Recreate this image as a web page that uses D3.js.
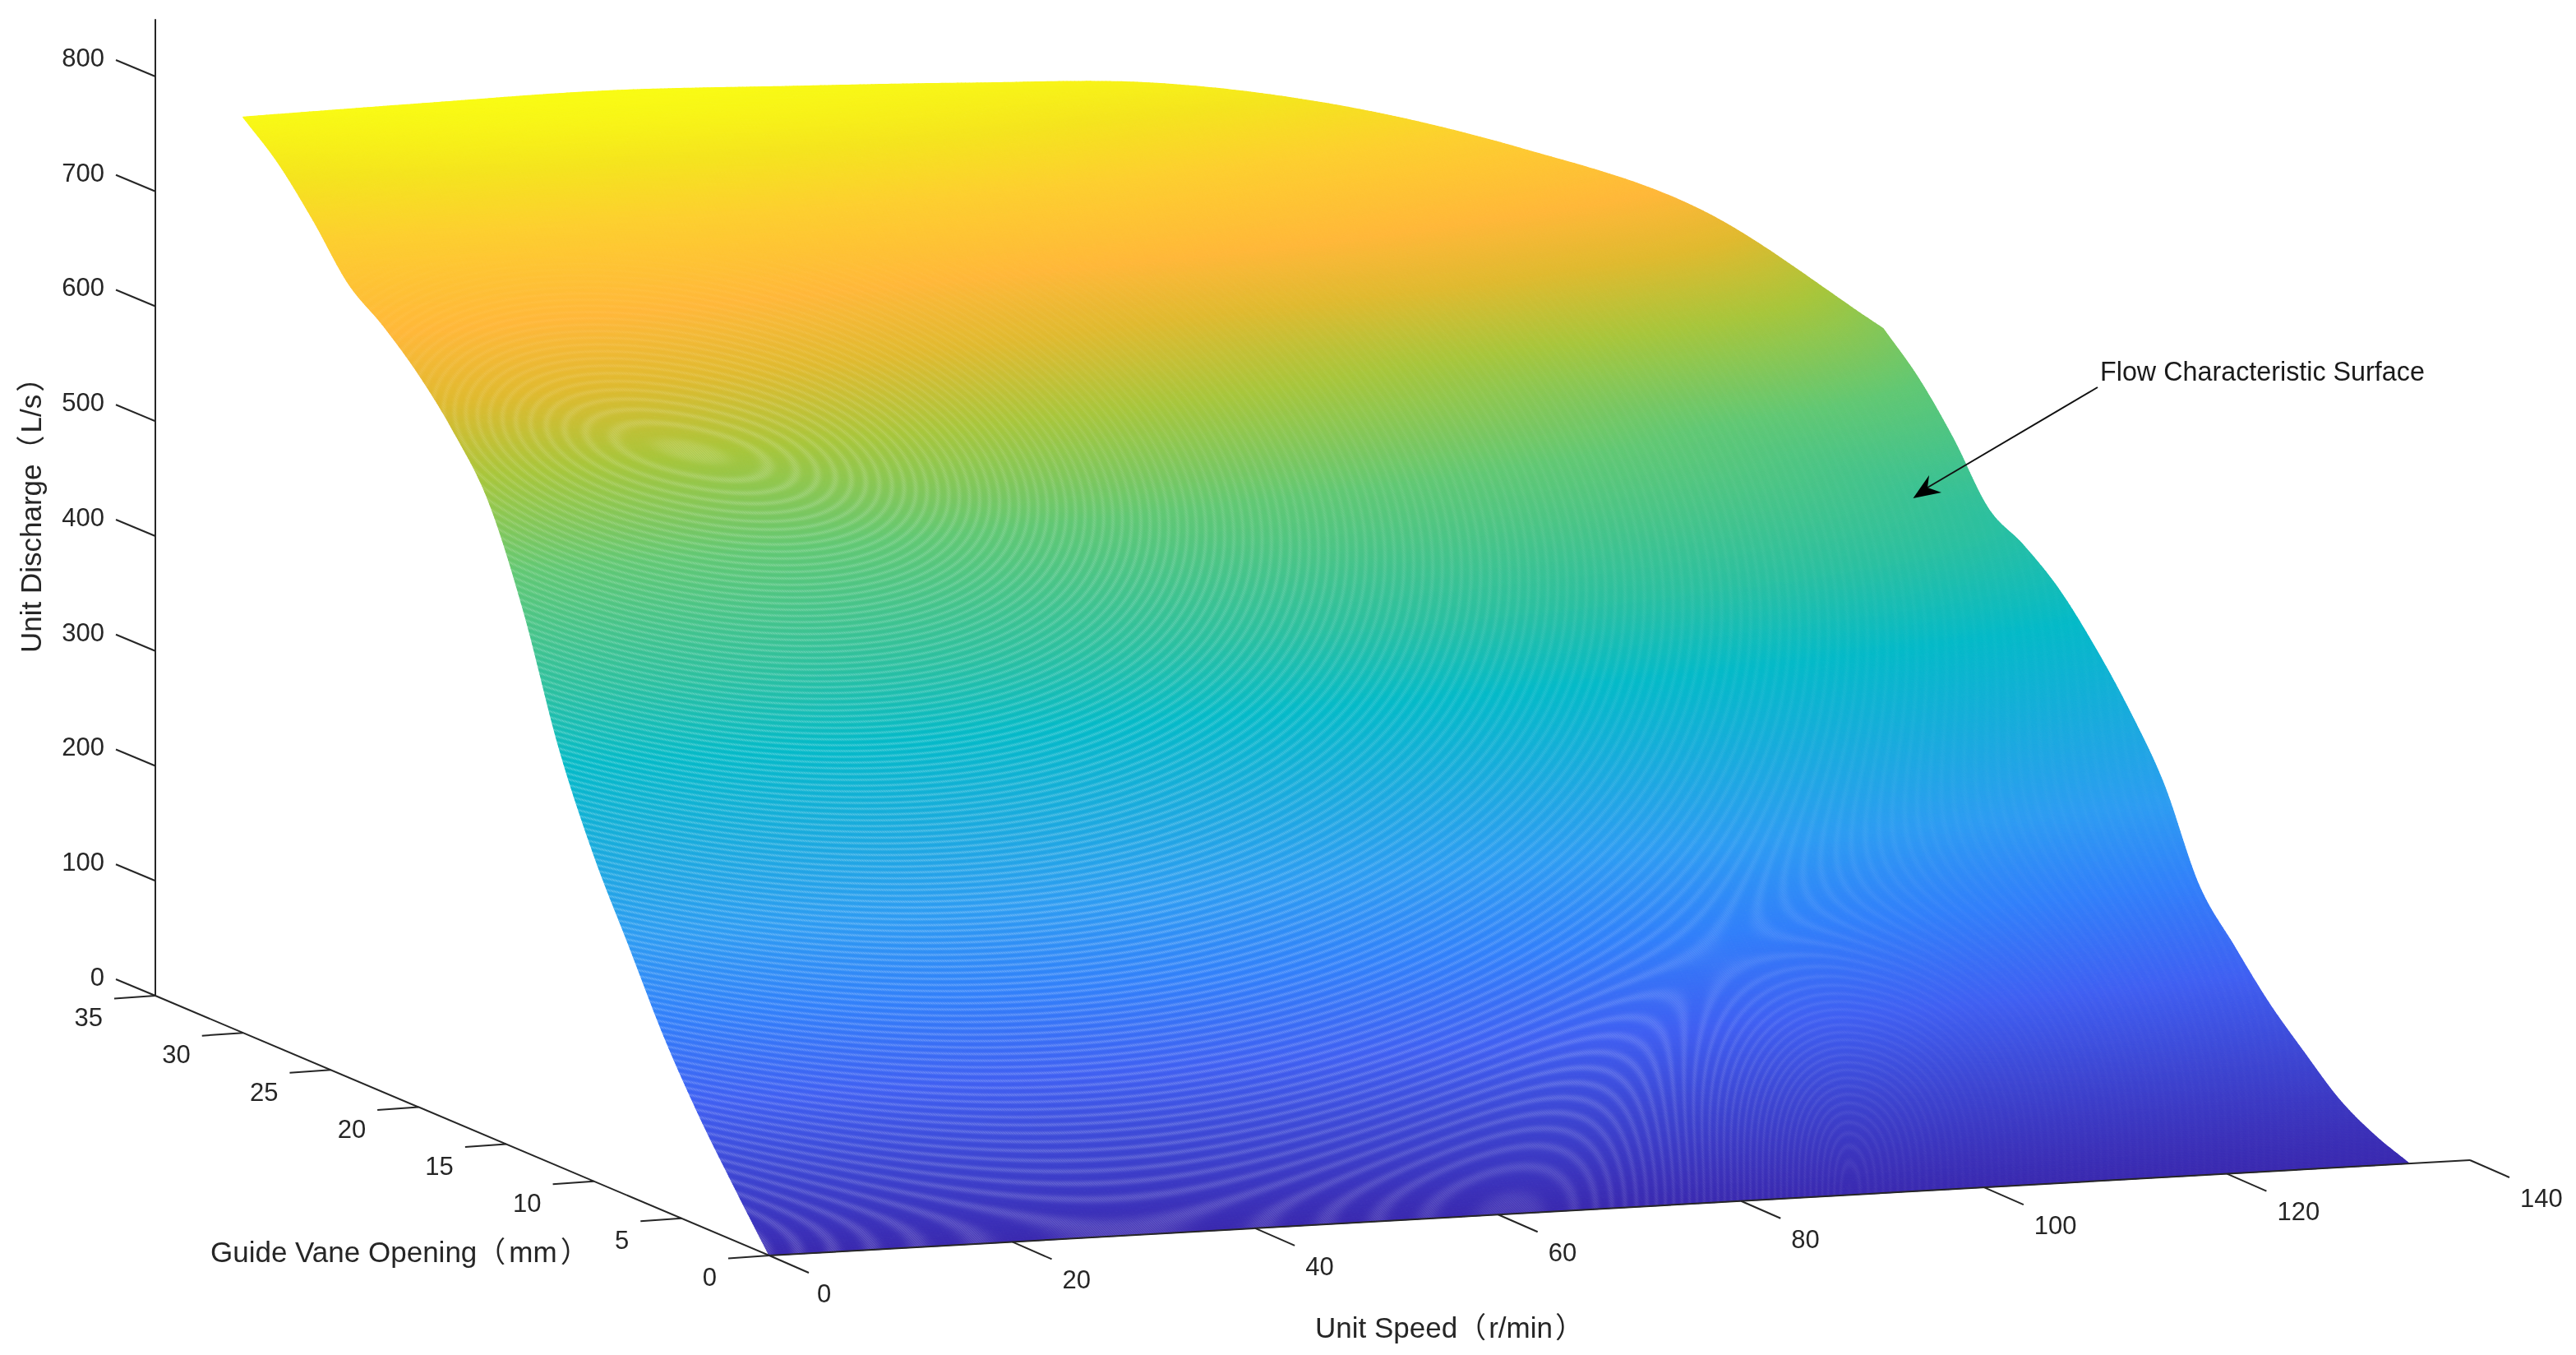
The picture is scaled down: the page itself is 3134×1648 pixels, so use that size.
<!DOCTYPE html>
<html>
<head>
<meta charset="utf-8">
<title>Flow Characteristic Surface</title>
<script src="https://cdn.jsdelivr.net/npm/d3@7"></script>
<style>
  html, body { margin: 0; background: #fff; }
  canvas, svg { position: absolute; left: 0; top: 0; }
  text { font-family: "Liberation Sans", "Noto Sans CJK SC", sans-serif; fill: #262626; }
</style>
</head>
<body>
<script>
// tick labels
var speedTicks = [0, 20, 40, 60, 80, 100, 120, 140];
var openingTicks = [0, 5, 10, 15, 20, 25, 30, 35];
var dischargeTicks = [0, 100, 200, 300, 400, 500, 600, 700, 800];

// surface grid
var speedGrid = [0, 15, 30, 45, 60, 75, 90, 105, 120, 135];
var openingGrid = [0, 2, 4, 6, 8, 10, 12, 14, 16, 18, 20, 22, 24, 26, 28, 30];
var dischargeRows = [
  [0, 0, 0, 0, 0, 0, 0, 0, 0, 0],
  [47, 43, 39, 35, 32, 28, 24, 20, 16, 12],
  [96, 87, 80, 74, 67, 60, 53, 45, 38, 30],
  [152, 143, 134, 124, 114, 103, 93, 81, 70, 58],
  [218, 206, 192, 179, 164, 150, 135, 120, 104, 88],
  [284, 268, 253, 236, 219, 202, 183, 164, 145, 125],
  [365, 346, 327, 305, 284, 262, 239, 215, 190, 165],
  [470, 449, 427, 404, 380, 354, 328, 299, 271, 240],
  [553, 531, 507, 482, 455, 426, 395, 362, 328, 292],
  [601, 582, 561, 537, 511, 481, 449, 413, 376, 335],
  [638, 624, 607, 585, 559, 530, 496, 458, 417, 371],
  [667, 659, 645, 626, 601, 570, 535, 494, 448, 396],
  [691, 688, 680, 663, 640, 608, 571, 526, 474, 415],
  [733, 739, 735, 723, 702, 672, 636, 590, 535, 463],
  [770, 783, 785, 777, 758, 730, 694, 648, 592, 503],
  [797, 800, 802, 797, 791, 782, 754, 708, 645, 533]
];

// colour map stops
var colorLevels = [0, 105, 165, 224, 350, 408, 500, 570, 620, 662, 720, 760, 800];
var colorStops = ["#3b2ab0", "#4060f2", "#3280fa", "#2e9cf2", "#05bac8", "#2cc0a0", "#62c874", "#a8c63c", "#e0ba30", "#ffb83a", "#fdcf30", "#f5e41f", "#f9fb15"];

// faintness of the mesh ripples, by screen row and column
var rippleCols = [400, 900, 1400, 1900, 2400, 2900];
var rippleRows = [300, 500, 700, 900, 1100, 1300, 1500];
var rippleAmp = [
  [0, 0, 0, 0, 0, 0],
  [0.10, 0.20, 0.08, 0.05, 0, 0],
  [0.20, 0.25, 0.20, 0.08, 0.02, 0],
  [0.28, 0.30, 0.25, 0.12, 0.03, 0.01],
  [0.28, 0.30, 0.30, 0.18, 0.04, 0.02],
  [0.22, 0.25, 0.25, 0.22, 0.03, 0.01],
  [0.18, 0.20, 0.20, 0.12, 0.02, 0.01]
];

var width = 3134;
var height = 1648;

// oblique projection, built from one scale per screen component
var xToPx = d3.scaleLinear().domain([0, 140]).range([936, 3005]);
var xToPy = d3.scaleLinear().domain([0, 140]).range([1527, 1411]);
var yToDx = d3.scaleLinear().domain([0, 35]).range([0, -747]);
var yToDy = d3.scaleLinear().domain([0, 35]).range([0, -316]);
var zToDy = d3.scaleLinear().domain([0, 800]).range([0, -1118]);

function project(x, y, z) {
  return [xToPx(x) + yToDx(y), xToPy(x) + yToDy(y) + zToDy(z)];
}

var color = d3.scaleLinear().domain(colorLevels).range(colorStops).clamp(true);
var colorLut = d3.range(1024).map(i => d3.rgb(color(i / 1023 * 800)).formatHex());

function catmull(p0, p1, p2, p3, t) {
  return 0.5 * (2 * p1 + (p2 - p0) * t + (2 * p0 - 5 * p1 + 4 * p2 - p3) * t * t + (3 * p1 - p0 - 3 * p2 + p3) * t * t * t);
}

// smooth shading inside the read grid, like shading interp
function sampleAlong(arr, f) {
  var n = arr.length;
  var i = Math.min(Math.floor(f), n - 2);
  var t = f - i;
  var before = i > 0 ? arr[i - 1] : 2 * arr[0] - arr[1];
  var after = i + 2 < n ? arr[i + 2] : 2 * arr[n - 1] - arr[n - 2];
  return catmull(before, arr[i], arr[i + 1], after, t);
}

var canvas = d3.select("body").append("canvas")
  .attr("width", width)
  .attr("height", height);
var ctx = canvas.node().getContext("2d");

function drawSurface() {
  var nx = 420, ny = 420;
  var maxC = speedGrid.length - 1, maxR = openingGrid.length - 1;
  var pts = [];
  for (var j = 0; j <= ny; j++) {
    var rf = j / ny * maxR;
    var col = speedGrid.map((s, c) => sampleAlong(dischargeRows.map(r => r[c]), rf));
    var row = [];
    for (var i = 0; i <= nx; i++) {
      var cf = i / nx * maxC;
      var z = Math.max(0, sampleAlong(col, cf));
      var p = project(cf / maxC * 135, rf / maxR * 30, z);
      row.push([p[0], p[1], z]);
    }
    pts.push(row);
  }
  ctx.lineWidth = 1.2;
  ctx.lineJoin = "round";
  for (var j = ny - 1; j >= 0; j--) {
    for (var i = 0; i < nx; i++) {
      var a = pts[j][i], b = pts[j][i + 1], c = pts[j + 1][i + 1], d = pts[j + 1][i];
      var zm = (a[2] + b[2] + c[2] + d[2]) / 4;
      var fill = colorLut[Math.min(1023, Math.round(zm / 800 * 1023))];
      ctx.fillStyle = fill;
      ctx.strokeStyle = fill;
      ctx.beginPath();
      ctx.moveTo(a[0], a[1]);
      ctx.lineTo(b[0], b[1]);
      ctx.lineTo(c[0], c[1]);
      ctx.lineTo(d[0], d[1]);
      ctx.closePath();
      ctx.fill();
      ctx.stroke();
    }
  }
}

// the ripples in the mesh: rings round two centres that meet in a saddle
function ripplePhase(px, py) {
  // front edge flattens the rings so they turn upright near it
  var front = 1527 - 0.056 * (px - 936);
  var e = front - py;
  var yw = front - Math.sqrt(e * e + 150 * 150) + 20;
  var dx = px - 840, dy = yw - 557;
  var u = dx * 0.978 + dy * 0.208, v = -dx * 0.208 + dy * 0.978;
  // rings are flatter close to their centre
  var d0 = Math.sqrt(u * u / 3.61 + v * v);
  var a = 1.9 + 2.6 * Math.exp(-d0 / 90);
  var dA = Math.sqrt(u * u / (a * a) + v * v);
  var rA = dA * dA / (dA + 100);
  var dx2 = px - 2250, dy2 = yw - 1330;
  var dS = Math.sqrt(dx2 * dx2 / (dx2 < 0 ? 1.2 : 1.96) + dy2 * dy2) + 492;
  var k = 0.012;
  var diff = Math.min(600, rA - dS);
  return (rA - Math.log(1 + Math.exp(k * diff)) / k) / 6.2;
}

function ampAt(px, py) {
  var fx = (px - rippleCols[0]) / 500, fy = (py - rippleRows[0]) / 200;
  fx = Math.max(0, Math.min(rippleCols.length - 1.001, fx));
  fy = Math.max(0, Math.min(rippleRows.length - 1.001, fy));
  var i = Math.floor(fx), j = Math.floor(fy);
  var tx = fx - i, ty = fy - j;
  var top = rippleAmp[j][i] * (1 - tx) + rippleAmp[j][i + 1] * tx;
  var bot = rippleAmp[j + 1][i] * (1 - tx) + rippleAmp[j + 1][i + 1] * tx;
  return top * (1 - ty) + bot * ty;
}

function drawRipples() {
  var img = ctx.getImageData(0, 0, width, height);
  var data = img.data;
  for (var py = 300; py < height; py++) {
    for (var px = 0; px < width; px++) {
      var o = (py * width + px) * 4;
      if (data[o + 3] === 0) continue;
      var amp = ampAt(px, py);
      if (amp <= 0) continue;
      var s = 0.5 + 0.5 * Math.cos(2 * Math.PI * ripplePhase(px, py));
      var dot = (px + 2 * py) % 3 === 0 ? 1 : 0.55;
      var light = amp * s * s * dot;
      data[o] += (255 - data[o]) * light;
      data[o + 1] += (255 - data[o + 1]) * light;
      data[o + 2] += (255 - data[o + 2]) * light;
    }
  }
  ctx.putImageData(img, 0, 0);
}

drawSurface();
drawRipples();

var svg = d3.select("body").append("svg")
  .attr("width", width)
  .attr("height", height);

var axisColor = "#262626";
var tickFont = 31;
var labelFont = 35;

function line(g, a, b, w) {
  g.append("line")
    .attr("x1", a[0]).attr("y1", a[1])
    .attr("x2", b[0]).attr("y2", b[1])
    .attr("stroke", axisColor)
    .attr("stroke-width", w || 2);
}

// axis lines
line(svg, project(0, 35, 0), project(0, 0, 0));
line(svg, project(0, 0, 0), project(140, 0, 0));
line(svg, project(0, 35, 0), project(0, 35, 850));

// ticks and labels
speedTicks.forEach(function(d) {
  var p = project(d, 0, 0);
  line(svg, p, [p[0] + 48, p[1] + 21]);
  svg.append("text")
    .attr("x", p[0] + 48 + (d == 0 ? 10 : 13))
    .attr("y", p[1] + 21 + 25)
    .attr("dy", "0.35em")
    .attr("font-size", tickFont)
    .text(d);
});

openingTicks.forEach(function(d) {
  var p = project(0, d, 0);
  line(svg, p, [p[0] - 50, p[1] + 3.5]);
  svg.append("text")
    .attr("x", p[0] - 50 - 14)
    .attr("y", p[1] + 3.5 + 23)
    .attr("dy", "0.35em")
    .attr("text-anchor", "end")
    .attr("font-size", tickFont)
    .text(d);
});

dischargeTicks.forEach(function(d) {
  var p = project(0, 35, d);
  line(svg, p, [p[0] - 48, p[1] - 20]);
  svg.append("text")
    .attr("x", p[0] - 62)
    .attr("y", p[1] - 23)
    .attr("dy", "0.35em")
    .attr("text-anchor", "end")
    .attr("font-size", tickFont)
    .text(d);
});

// axis titles, the full width brackets sit a little wider than the font gives
function axisTitle(sel, name, unit, gap) {
  sel.attr("font-size", labelFont);
  sel.append("tspan").text(name + "（");
  sel.append("tspan").attr("dx", gap).text(unit);
  sel.append("tspan").attr("dx", gap).text("）");
}

axisTitle(svg.append("text").attr("x", 256).attr("y", 1535), "Guide Vane Opening", "mm", 4);
axisTitle(svg.append("text").attr("x", 1600).attr("y", 1627), "Unit Speed", "r/min", 3);
axisTitle(svg.append("text").attr("transform", "translate(50,794) rotate(-90)"), "Unit Discharge", "L/s", 3);

// annotation
svg.append("text")
  .attr("x", 2555).attr("y", 452).attr("dy", "0.35em")
  .attr("font-size", 32.3)
  .style("fill", "#1a1a1a")
  .text("Flow Characteristic Surface");
svg.append("line")
  .attr("x1", 2552).attr("y1", 471)
  .attr("x2", 2345).attr("y2", 593)
  .attr("stroke", "#111")
  .attr("stroke-width", 2);
svg.append("path")
  .attr("d", "M2327.5,606 L2347,578 L2345,593 L2362,599 Z")
  .attr("fill", "#000");
</script>
</body>
</html>
